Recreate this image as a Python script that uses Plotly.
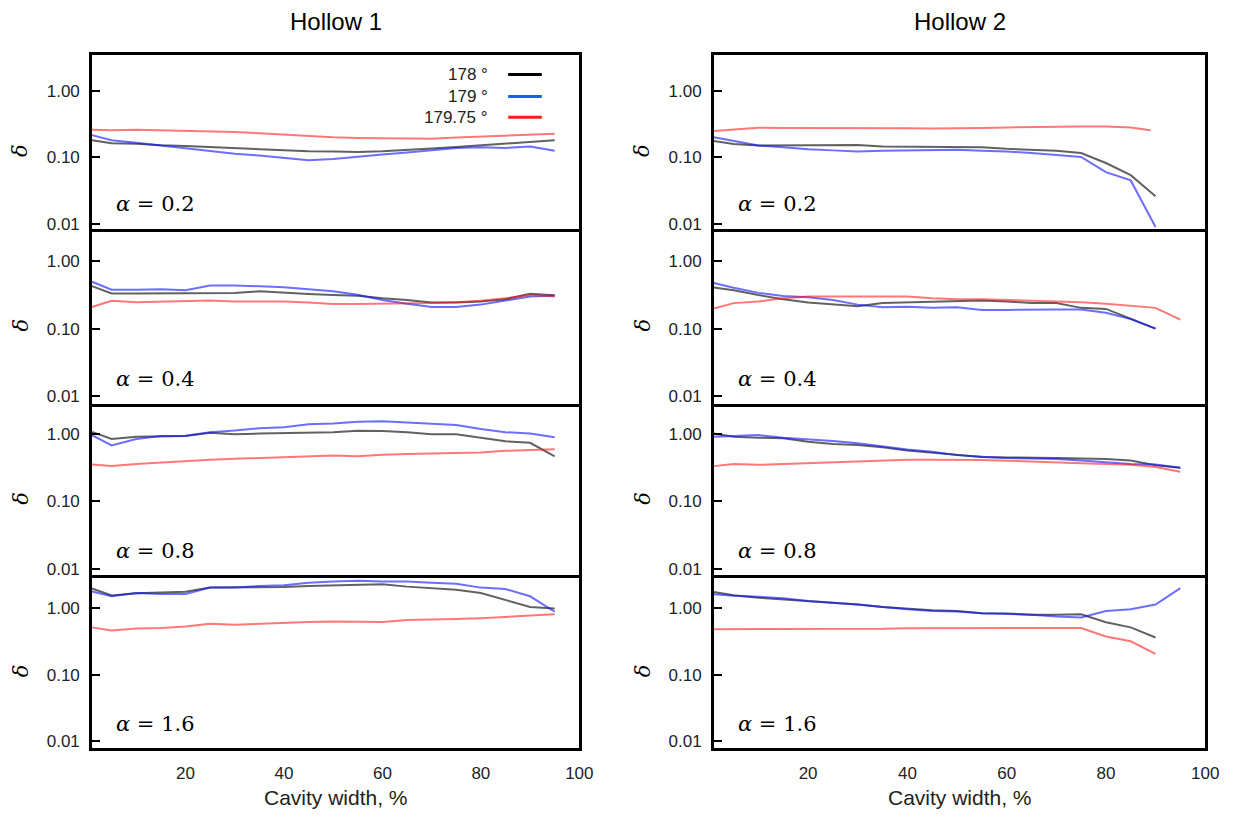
import plotly.graph_objects as go

# ---------------- data ----------------
X = [1, 5, 10, 15, 20, 25, 30, 35, 40, 45, 50, 55, 60, 65, 70, 75, 80, 85, 90, 95]
X_H2_A02_RED = [1, 5, 10, 15, 20, 25, 30, 35, 40, 45, 50, 55, 60, 65, 70, 75, 80, 85, 89]

SERIES_NAMES = ["178 °", "179 °", "179.75 °"]
ALPHA_LABELS = ["0.2", "0.4", "0.8", "1.6"]
COLUMN_TITLES = ["Hollow 1", "Hollow 2"]
X_TICKS = [20, 40, 60, 80, 100]
Y_TICKS = [0.01, 0.1, 1.0]
Y_TICK_TEXT = ["0.01", "0.10", "1.00"]

# Hollow 1
h1_a02_178 = [0.18, 0.163, 0.16, 0.151, 0.148, 0.143, 0.136, 0.132, 0.126, 0.123, 0.122, 0.12, 0.123, 0.128, 0.136, 0.143, 0.151, 0.16, 0.168, 0.18]
h1_a02_179 = [0.215, 0.18, 0.165, 0.15, 0.136, 0.126, 0.113, 0.106, 0.098, 0.09, 0.094, 0.103, 0.11, 0.118, 0.128, 0.138, 0.142, 0.138, 0.145, 0.125]
h1_a02_17975 = [0.26, 0.255, 0.26, 0.255, 0.25, 0.248, 0.24, 0.23, 0.22, 0.205, 0.2, 0.195, 0.192, 0.19, 0.19, 0.198, 0.205, 0.215, 0.22, 0.225]

h1_a04_178 = [0.43, 0.334, 0.334, 0.334, 0.334, 0.34, 0.34, 0.36, 0.34, 0.327, 0.316, 0.31, 0.283, 0.268, 0.246, 0.246, 0.254, 0.275, 0.33, 0.315]
h1_a04_179 = [0.5, 0.38, 0.38, 0.385, 0.372, 0.44, 0.44, 0.425, 0.415, 0.385, 0.36, 0.32, 0.268, 0.235, 0.21, 0.21, 0.228, 0.262, 0.3, 0.31]
h1_a04_17975 = [0.21, 0.26, 0.248, 0.254, 0.262, 0.262, 0.254, 0.254, 0.254, 0.246, 0.233, 0.232, 0.233, 0.236, 0.24, 0.248, 0.26, 0.283, 0.316, 0.3]

h1_a08_178 = [1.06, 0.83, 0.9, 0.92, 0.92, 1.03, 0.98, 1.0, 1.02, 1.03, 1.05, 1.1, 1.09, 1.05, 0.98, 0.98, 0.87, 0.77, 0.73, 0.46]
h1_a08_179 = [0.95, 0.67, 0.83, 0.92, 0.93, 1.05, 1.11, 1.2, 1.24, 1.38, 1.41, 1.5, 1.52, 1.45, 1.38, 1.34, 1.17, 1.05, 1.0, 0.88]
h1_a08_17975 = [0.35, 0.332, 0.354, 0.373, 0.39, 0.41, 0.424, 0.434, 0.448, 0.462, 0.472, 0.462, 0.488, 0.5, 0.51, 0.52, 0.526, 0.555, 0.567, 0.586]

h1_a16_178 = [1.95, 1.53, 1.65, 1.71, 1.74, 2.01, 2.01, 2.06, 2.06, 2.13, 2.18, 2.2, 2.25, 2.08, 1.97, 1.86, 1.67, 1.32, 1.03, 0.98]
h1_a16_179 = [1.76, 1.49, 1.67, 1.61, 1.61, 2.01, 2.01, 2.13, 2.18, 2.38, 2.49, 2.55, 2.49, 2.49, 2.38, 2.3, 2.01, 1.91, 1.49, 0.875]
h1_a16_17975 = [0.51, 0.46, 0.49, 0.5, 0.525, 0.58, 0.56, 0.58, 0.593, 0.613, 0.627, 0.627, 0.613, 0.655, 0.663, 0.678, 0.7, 0.74, 0.766, 0.8]

# Hollow 2
h2_a02_178 = [0.175, 0.158, 0.15, 0.15, 0.153, 0.15, 0.153, 0.145, 0.145, 0.145, 0.145, 0.142, 0.134, 0.13, 0.125, 0.116, 0.082, 0.054, 0.026]
h2_a02_179 = [0.2, 0.175, 0.15, 0.142, 0.132, 0.127, 0.122, 0.125, 0.127, 0.13, 0.13, 0.125, 0.122, 0.116, 0.109, 0.101, 0.06, 0.045, 0.009]
h2_a02_17975 = [0.248, 0.26, 0.278, 0.275, 0.275, 0.278, 0.278, 0.275, 0.272, 0.27, 0.27, 0.275, 0.28, 0.285, 0.29, 0.29, 0.29, 0.28, 0.254]

h2_a04_178 = [0.41, 0.373, 0.316, 0.274, 0.246, 0.228, 0.216, 0.24, 0.246, 0.254, 0.262, 0.262, 0.254, 0.24, 0.24, 0.204, 0.197, 0.142, 0.1]
h2_a04_179 = [0.48, 0.407, 0.341, 0.306, 0.293, 0.268, 0.228, 0.208, 0.212, 0.204, 0.208, 0.19, 0.19, 0.193, 0.193, 0.193, 0.173, 0.139, 0.1]
h2_a04_17975 = [0.2, 0.24, 0.254, 0.283, 0.3, 0.3, 0.306, 0.306, 0.3, 0.283, 0.274, 0.274, 0.268, 0.262, 0.254, 0.248, 0.235, 0.22, 0.204, 0.136]

h2_a08_178 = [1.0, 0.9, 0.87, 0.85, 0.76, 0.7, 0.68, 0.63, 0.56, 0.52, 0.48, 0.45, 0.443, 0.443, 0.434, 0.429, 0.42, 0.4, 0.34, 0.313]
h2_a08_179 = [0.9, 0.93, 0.95, 0.87, 0.83, 0.78, 0.72, 0.65, 0.58, 0.54, 0.48, 0.453, 0.434, 0.429, 0.42, 0.4, 0.376, 0.356, 0.35, 0.313]
h2_a08_17975 = [0.33, 0.356, 0.345, 0.356, 0.368, 0.376, 0.389, 0.397, 0.41, 0.41, 0.41, 0.406, 0.397, 0.389, 0.376, 0.364, 0.356, 0.345, 0.32, 0.272]

h2_a16_178 = [1.73, 1.55, 1.42, 1.34, 1.27, 1.2, 1.12, 1.03, 0.97, 0.92, 0.9, 0.83, 0.82, 0.79, 0.79, 0.8, 0.61, 0.51, 0.36]
h2_a16_179 = [1.6, 1.52, 1.47, 1.39, 1.27, 1.2, 1.12, 1.03, 0.95, 0.9, 0.88, 0.83, 0.82, 0.79, 0.74, 0.72, 0.9, 0.95, 1.12, 1.97]
h2_a16_17975 = [0.48, 0.48, 0.48, 0.48, 0.49, 0.48, 0.485, 0.485, 0.496, 0.496, 0.507, 0.5, 0.5, 0.507, 0.5, 0.5, 0.373, 0.316, 0.204]

# ---------------- layout config ----------------
W, H = 1237, 821
LINE_COLORS = ["rgba(0,0,0,0.62)", "rgba(20,20,255,0.62)", "rgba(255,20,20,0.58)"]
LEGEND_COLORS = ["#000000", "#1a5fe0", "#ff1a1a"]
COL_PX = [(93, 586), (722, 1219)]
ROW_PX = [(55, 230), (230, 406), (406, 579), (579, 753)]
Y_RANGES = [(-2.07, 0.54), (-2.115, 0.49), (-2.10, 0.445), (-2.105, 0.485)]
DELTA_X = [21, 650]

panels = [
    [(h1_a02_178, h1_a02_179, h1_a02_17975), (h2_a02_178, h2_a02_179, h2_a02_17975)],
    [(h1_a04_178, h1_a04_179, h1_a04_17975), (h2_a04_178, h2_a04_179, h2_a04_17975)],
    [(h1_a08_178, h1_a08_179, h1_a08_17975), (h2_a08_178, h2_a08_179, h2_a08_17975)],
    [(h1_a16_178, h1_a16_179, h1_a16_17975), (h2_a16_178, h2_a16_179, h2_a16_17975)],
]

FONT = "Liberation Sans, Arial, sans-serif"
SERIF = "DejaVu Serif, serif"

fig = go.Figure()
annotations = []
shapes = []

for r in range(4):
    for c in range(2):
        n = r * 2 + c + 1
        xs = "" if n == 1 else str(n)
        for k, ys in enumerate(panels[r][c]):
            xv = X[:len(ys)]
            if r == 0 and c == 1 and k == 2:
                xv = X_H2_A02_RED
            fig.add_trace(go.Scatter(
                x=xv, y=ys, mode="lines", name=SERIES_NAMES[k],
                line=dict(color=LINE_COLORS[k], width=2),
                xaxis="x" + xs, yaxis="y" + xs, showlegend=False,
            ))
        x0, x1 = COL_PX[c]
        t0, t1 = ROW_PX[r]
        xdom = [x0 / W, x1 / W]
        ydom = [1 - t1 / H, 1 - t0 / H]
        bottom = (r == 3)
        fig.update_layout(**{
            "xaxis" + xs: dict(
                domain=xdom, anchor="y" + xs, range=[1, 100.01],
                showline=True, mirror=(r == 0), linecolor="black", linewidth=2.5,
                showgrid=False, zeroline=False,
                tickvals=X_TICKS, showticklabels=bottom,
                ticks="outside", ticklen=7, tickcolor="rgba(0,0,0,0)",
                tickfont=dict(family=FONT, size=17, color="#222"),
            ),
            "yaxis" + xs: dict(
                domain=ydom, anchor="x" + xs, type="log",
                range=list(Y_RANGES[r]),
                showline=True, mirror=True, linecolor="black", linewidth=2.5,
                showgrid=False, zeroline=False,
                tickvals=Y_TICKS, ticktext=Y_TICK_TEXT,
                ticks="inside", ticklen=8, tickwidth=1.5, tickcolor="black",
                ticklabelstandoff=6,
                tickfont=dict(family=FONT, size=17, color="#222"),
            ),
        })
        # delta label
        annotations.append(dict(
            text="<i>δ</i>", xref="paper", yref="y" + xs + " domain",
            x=DELTA_X[c] / W, y=0.45, xanchor="center", yanchor="middle",
            textangle=-90, showarrow=False,
            font=dict(family=SERIF, size=21, color="black"),
        ))
        # alpha label
        annotations.append(dict(
            text="<i>α</i> = " + ALPHA_LABELS[r],
            xref="x" + xs + " domain", yref="y" + xs + " domain",
            x=0.045, y=0.14, xanchor="left", yanchor="middle", showarrow=False,
            font=dict(family=SERIF, size=21, color="black"),
        ))

# column titles and x titles
for c in range(2):
    cx = (COL_PX[c][0] + COL_PX[c][1]) / 2 / W
    annotations.append(dict(
        text=COLUMN_TITLES[c], xref="paper", yref="paper", x=cx, y=1 - 22 / H,
        xanchor="center", yanchor="middle", showarrow=False,
        font=dict(family=FONT, size=24, color="black"),
    ))
    annotations.append(dict(
        text="Cavity width, %", xref="paper", yref="paper", x=cx, y=1 - 802 / H,
        xanchor="center", yanchor="middle", showarrow=False,
        font=dict(family=FONT, size=21, color="#222"),
    ))

# legend (text left of sample line)
LEG_Y = [75, 97, 118]
for k in range(3):
    yp = 1 - LEG_Y[k] / H
    annotations.append(dict(
        text=SERIES_NAMES[k], xref="paper", yref="paper", x=496 / W, y=yp,
        xanchor="right", yanchor="middle", showarrow=False,
        font=dict(family=FONT, size=17, color="#222"),
    ))
    shapes.append(dict(
        type="line", xref="paper", yref="paper", x0=514 / W, x1=548 / W, y0=yp, y1=yp,
        line=dict(color=LEGEND_COLORS[k], width=3),
    ))

fig.update_layout(
    width=W, height=H, margin=dict(l=0, r=0, t=0, b=0),
    paper_bgcolor="white", plot_bgcolor="white",
    showlegend=False, annotations=annotations, shapes=shapes,
)

fig.write_html("out.html")
